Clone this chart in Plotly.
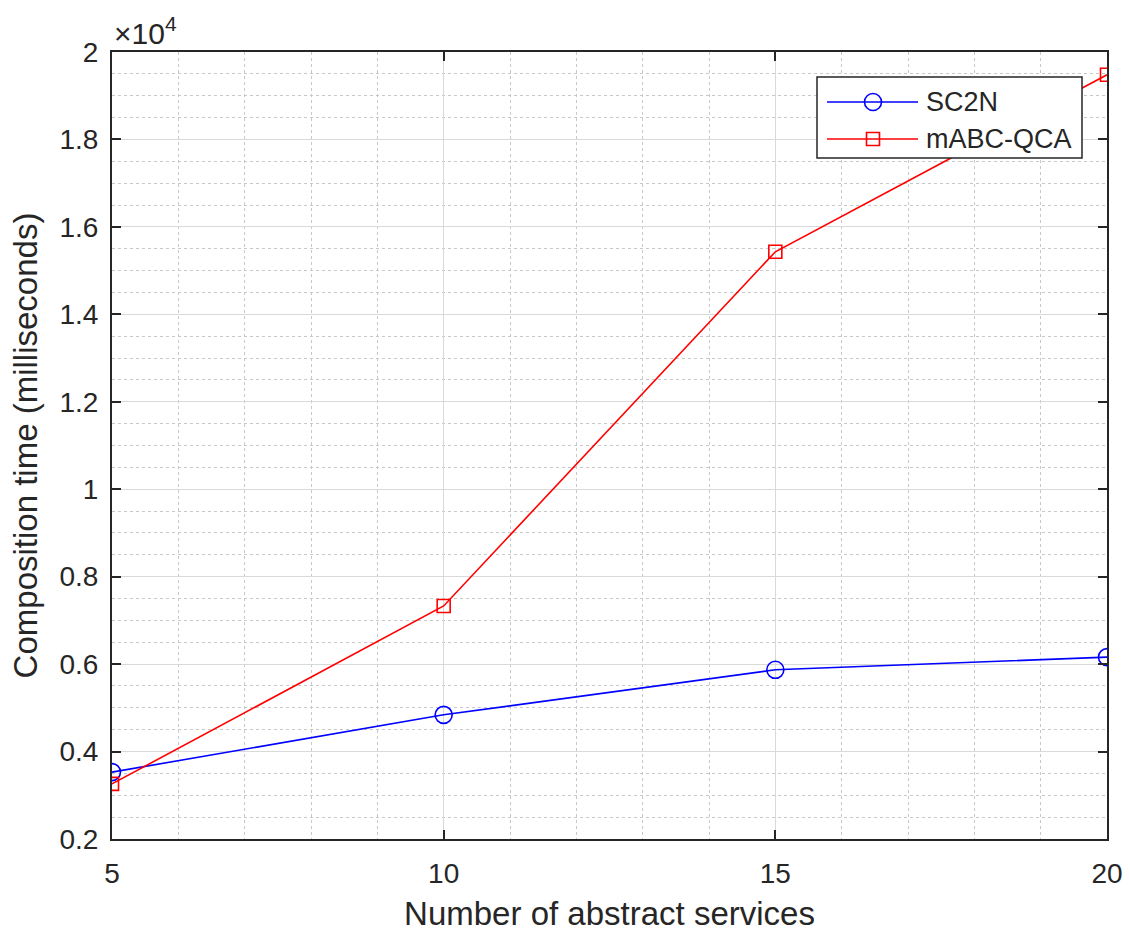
import plotly.graph_objects as go

x_services = [5, 10, 15, 20]
sc2n = [3530, 4840, 5870, 6160]
mabc_qca = [3260, 7330, 15430, 19480]
y_tickvals = [2000, 4000, 6000, 8000, 10000, 12000, 14000, 16000, 18000, 20000]
y_ticktext = ["0.2", "0.4", "0.6", "0.8", "1", "1.2", "1.4", "1.6", "1.8", "2"]
x_tickvals = [5, 10, 15, 20]
series_names = ["SC2N", "mABC-QCA"]
series_colors = ["#0000ff", "#ff0000"]

FONT = "Liberation Sans, Arial, sans-serif"
TXT = "#262626"

W, H = 1130, 936
ML, MR, MT, MB = 112, 23, 52, 97
PW, PH = W - ML - MR, H - MT - MB


def px2x(px):
    return (px - ML) / PW


def px2y(py):
    return (H - MB - py) / PH


fig = go.Figure()
fig.add_trace(go.Scatter(
    x=x_services, y=sc2n, name=series_names[0], mode="lines+markers",
    line=dict(color=series_colors[0], width=1.6),
    marker=dict(symbol="circle-open", size=17, color=series_colors[0], line=dict(width=1.6)),
    showlegend=False,
))
fig.add_trace(go.Scatter(
    x=x_services, y=mabc_qca, name=series_names[1], mode="lines+markers",
    line=dict(color=series_colors[1], width=1.6),
    marker=dict(symbol="square-open", size=13, color=series_colors[1], line=dict(width=1.6)),
    showlegend=False,
))

axis_common = dict(
    showline=True, linecolor=TXT, linewidth=2, mirror="ticks",
    ticks="inside", ticklen=9, tickcolor=TXT, tickwidth=2,
    showgrid=True, gridcolor="#d9d9d9", gridwidth=1, zeroline=False,
    tickfont=dict(family=FONT, size=28, color=TXT),
    automargin=False,
)

fig.update_xaxes(
    range=[5, 20], tickvals=x_tickvals, ticklabelstandoff=8,
    title=dict(text="Number of abstract services", font=dict(family=FONT, size=33, color=TXT), standoff=14),
    minor=dict(dtick=1, showgrid=True, gridcolor="#c8c8c8", griddash="dot", ticks=""),
    **axis_common,
)
fig.update_yaxes(
    range=[2000, 20000], tickvals=y_tickvals, ticktext=y_ticktext, ticklabelstandoff=6,
    title=dict(text="Composition time (milliseconds)", font=dict(family=FONT, size=33, color=TXT), standoff=12),
    minor=dict(dtick=500, tick0=0, showgrid=True, gridcolor="#c8c8c8", griddash="dot", ticks=""),
    **axis_common,
)

fig.add_annotation(
    xref="paper", yref="paper", x=0, y=1, xanchor="left", yanchor="bottom",
    text="×10<sup>4</sup>", showarrow=False, xshift=0, yshift=0,
    font=dict(family=FONT, size=30, color=TXT),
)

# Legend box (MATLAB style), drawn in paper coordinates
shapes = [dict(
    type="rect", xref="paper", yref="paper",
    x0=px2x(817), x1=px2x(1082), y0=px2y(158), y1=px2y(77),
    line=dict(color=TXT, width=1.5), fillcolor="white", layer="above",
)]
row_y = [102, 139]
for i, (nm, col) in enumerate(zip(series_names, series_colors)):
    yy = px2y(row_y[i])
    shapes.append(dict(type="line", xref="paper", yref="paper",
                       x0=px2x(827), x1=px2x(918), y0=yy, y1=yy,
                       line=dict(color=col, width=1.6), layer="above"))
    if i == 0:
        shapes.append(dict(type="circle", xref="paper", yref="paper",
                           x0=px2x(873 - 8.5), x1=px2x(873 + 8.5),
                           y0=px2y(row_y[i] + 8.5), y1=px2y(row_y[i] - 8.5),
                           line=dict(color=col, width=1.6), layer="above"))
    else:
        shapes.append(dict(type="rect", xref="paper", yref="paper",
                           x0=px2x(873 - 6.5), x1=px2x(873 + 6.5),
                           y0=px2y(row_y[i] + 6.5), y1=px2y(row_y[i] - 6.5),
                           line=dict(color=col, width=1.6), layer="above"))
    fig.add_annotation(
        xref="paper", yref="paper", x=px2x(924), y=yy, xanchor="left", yanchor="middle",
        text=nm, showarrow=False, font=dict(family=FONT, size=27, color=TXT),
    )

fig.update_layout(
    width=W, height=H,
    margin=dict(l=ML, r=MR, t=MT, b=MB),
    paper_bgcolor="white", plot_bgcolor="white",
    shapes=shapes,
    showlegend=False,
)

fig.write_html("out.html")
